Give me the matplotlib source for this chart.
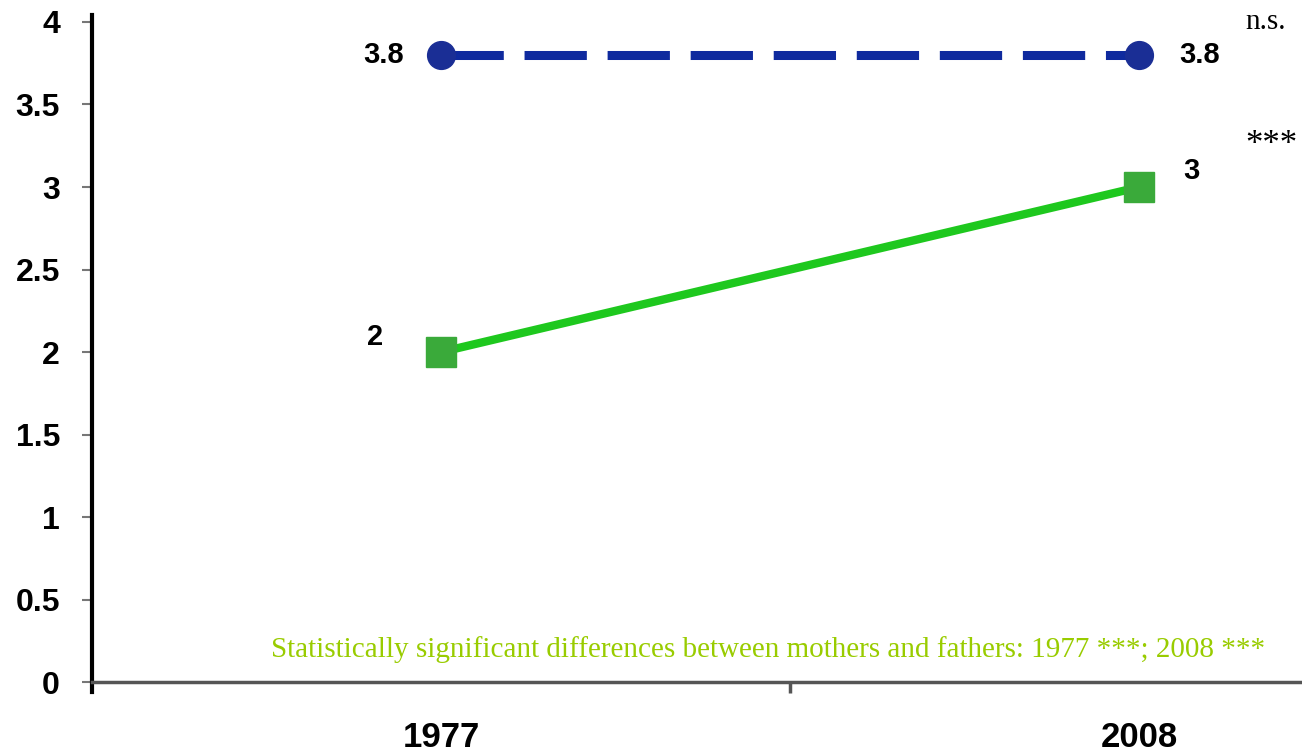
import matplotlib.pyplot as plt

years = ["1977", "2008"]
mothers = [3.8, 3.8]
fathers = [2, 3]
y_ticks = [0, 0.5, 1, 1.5, 2, 2.5, 3, 3.5, 4]
y_labels = ["0", "0.5", "1", "1.5", "2", "2.5", "3", "3.5", "4"]
note = "Statistically significant differences between mothers and fathers: 1977 ***; 2008 ***"

plt.rcParams["font.family"] = ["Liberation Sans Narrow", "Liberation Sans"]

fig = plt.figure(figsize=(13.02, 7.54), dpi=100)
ax = fig.add_axes([0.0707, 0.0822, 0.9293, 0.8974])

xpos = [0.5, 1.5]
ax.plot(xpos, mothers, color="#0f2a9e", lw=6.5, dashes=(6.9, 2.3), marker="o",
        ms=20, markerfacecolor="#1a2e95", markeredgecolor="#1a2e95", zorder=3)
ax.plot(xpos, fathers, color="#1ec81e", lw=6, zorder=2)
ax.plot(xpos, fathers, ls="none", marker="s", ms=21, color="#3aaa3a", zorder=3)

lab = dict(fontsize=21, fontweight="bold", va="center")
ax.text(xpos[0] - 0.083, mothers[0], "3.8", ha="center", **lab)
ax.text(xpos[1] + 0.087, mothers[1], "3.8", ha="center", **lab)
ax.text(xpos[0] - 0.095, fathers[0] + 0.09, "2", ha="center", **lab)
ax.text(xpos[1] + 0.075, fathers[1] + 0.1, "3", ha="center", **lab)

ax.text(1.652, 4.0, "n.s.", ha="left", va="center",
        family="Liberation Serif", fontsize=21)
ax.text(1.652, 3.25, "***", ha="left", va="center",
        family="Liberation Serif", fontsize=25)
ax.text(1.680, 0.2, note, ha="right", va="center", color="#99cc00",
        family="Liberation Serif", fontsize=21)

ax.set_xlim(0, 1.733)
ax.set_ylim(-0.06, 4.04)

ax.spines["top"].set_visible(False)
ax.spines["right"].set_visible(False)
ax.spines["left"].set_linewidth(3)
ax.spines["left"].set_color("black")
ax.spines["bottom"].set_position(("data", 0))
ax.spines["bottom"].set_color("#555555")
ax.spines["bottom"].set_linewidth(2.5)

ax.set_yticks(y_ticks)
ax.set_yticklabels(y_labels, fontsize=23, fontweight="bold")
ax.tick_params(axis="y", length=7, width=1.5, color="#777777", pad=16)

ax.set_xticks(xpos)
ax.set_xticklabels(years, fontsize=25, fontweight="bold")
ax.set_xticks([1], minor=True)
ax.tick_params(axis="x", which="major", length=0, pad=28)
ax.tick_params(axis="x", which="minor", length=8, width=2.5, color="#555555")

fig.savefig("out.png", dpi=100)
